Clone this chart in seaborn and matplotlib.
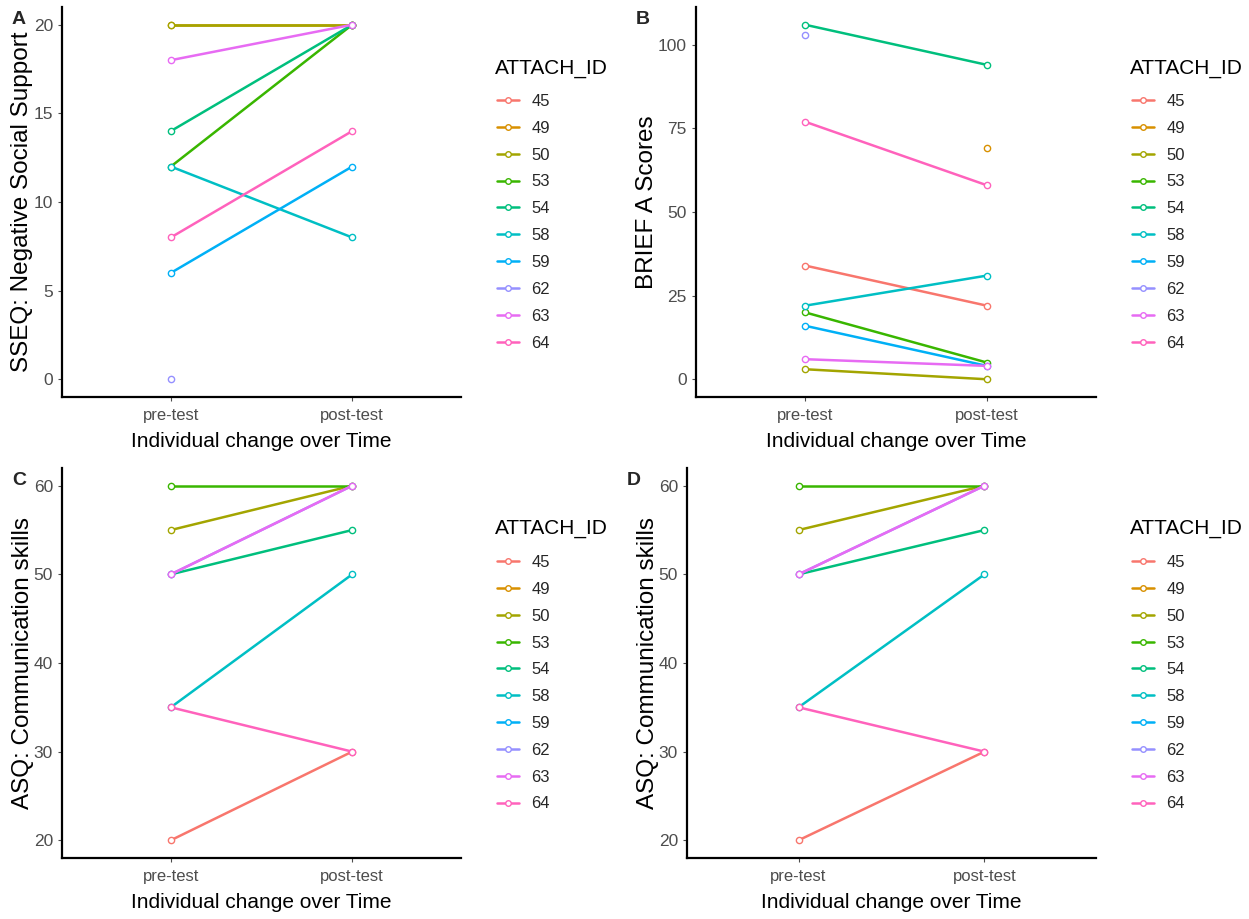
import numpy as np
import pandas as pd
import matplotlib
matplotlib.use("Agg")
import matplotlib.pyplot as plt
from matplotlib.lines import Line2D
import seaborn as sns

sns.set_theme(style="white")
plt.rcParams['font.family'] = ['Liberation Sans', 'DejaVu Sans']

ids = ["45", "49", "50", "53", "54", "58", "59", "62", "63", "64"]
palette = ["#F8766D", "#D89000", "#A3A500", "#39B600", "#00BF7D",
           "#00BFC4", "#00B0F6", "#9590FF", "#E76BF3", "#FF62BC"]
times = ["pre-test", "post-test"]

# values per ID: (pre, post); NaN = missing
sseq_pre  = [np.nan, 20, 20, 12, 14, 12, 6, 0, 18, 8]
sseq_post = [np.nan, 20, 20, 20, 20, 8, 12, np.nan, 20, 14]

brief_pre  = [34, np.nan, 3, 20, 106, 22, 16, 103, 6, 77]
brief_post = [22, 69, 0, 5, 94, 31, 4, np.nan, 4, 58]

asq_pre  = [20, np.nan, 55, 60, 50, 35, np.nan, 50, 50, 35]
asq_post = [30, np.nan, 60, 60, 55, 50, np.nan, 60, 60, 30]

panels = [
    ("A", "SSEQ: Negative Social Support", sseq_pre, sseq_post, [0, 5, 10, 15, 20]),
    ("B", "BRIEF A Scores", brief_pre, brief_post, [0, 25, 50, 75, 100]),
    ("C", "ASQ: Communication skills", asq_pre, asq_post, [20, 30, 40, 50, 60]),
    ("D", "ASQ: Communication skills", asq_pre, asq_post, [20, 30, 40, 50, 60]),
]

def make_df(pre, post):
    rows = []
    for i, pid in enumerate(ids):
        rows.append({"ATTACH_ID": pid, "Time": 0, "value": pre[i]})
        rows.append({"ATTACH_ID": pid, "Time": 1, "value": post[i]})
    return pd.DataFrame(rows)

W, H = 1249, 919
fig = plt.figure(figsize=(W / 100, H / 100), dpi=100)

boxes = [
    (62, 7, 461, 397),
    (696, 7, 1096, 397),
    (62, 468, 461, 858),
    (687, 468, 1096, 858),
]

pal = dict(zip(ids, palette))

for (letter, ylabel, pre, post, yticks), (x0, y0, x1, y1) in zip(panels, boxes):
    ax = fig.add_axes([x0 / W, 1 - y1 / H, (x1 - x0) / W, (y1 - y0) / H])
    df = make_df(pre, post)
    sns.lineplot(data=df, x="Time", y="value", hue="ATTACH_ID", hue_order=ids,
                 palette=pal, units="ATTACH_ID", estimator=None,
                 marker="o", markersize=4.5, linewidth=1.8, legend=False, ax=ax)
    for ln in ax.lines:
        c = ln.get_color()
        ln.set_markerfacecolor("white")
        ln.set_markeredgecolor(c)
        ln.set_markeredgewidth(1.0)
    vals = np.array([v for v in list(pre) + list(post) if not np.isnan(v)])
    lo, hi = vals.min(), vals.max()
    pad = (hi - lo) * 0.05
    ax.set_ylim(lo - pad, hi + pad)
    ax.set_xlim(-0.6, 1.6)
    ax.set_xticks([0, 1])
    ax.set_xticklabels(times)
    ax.set_yticks(yticks)
    ax.tick_params(axis="both", colors="#4D4D4D", labelsize=12, length=3,
                   width=0.8, direction="out", left=True, bottom=True)
    ax.tick_params(axis="x", pad=5)
    ax.tick_params(axis="y", labelsize=12.5)
    for lab in ax.get_xticklabels() + ax.get_yticklabels():
        lab.set_color("#4D4D4D")
    ax.set_xlabel("Individual change over Time", fontsize=15, color="black", labelpad=6.5)
    ax.set_ylabel(ylabel, fontsize=17.5, color="black", labelpad=0)
    for side in ["top", "right"]:
        ax.spines[side].set_visible(False)
    for side in ["left", "bottom"]:
        ax.spines[side].set_color("black")
        ax.spines[side].set_linewidth(1.6)
    ax.set_facecolor("white")

    # legend: title drawn separately, keys below
    leg_x = x1 + 34
    fig.text(leg_x / W, 1 - (y0 + 61) / H, "ATTACH_ID", fontsize=15,
             ha="left", va="center", color="black")
    handles = [Line2D([0], [0], color=pal[i], lw=1.8, marker="o", markersize=4,
                      markerfacecolor="white", markeredgecolor=pal[i], markeredgewidth=1.0)
               for i in ids]
    ax.legend(handles, ids, loc="upper left",
              bbox_to_anchor=((leg_x + 2 - x0) / (x1 - x0), 1 - 87 / (y1 - y0)),
              frameon=False, fontsize=12, borderpad=0,
              handlelength=1.3, handletextpad=0.75, labelspacing=0.71,
              borderaxespad=0)
    fig.text((x0 - 50) / W if letter in "AC" else (x0 - 60) / W, 1 - (y0 + 12) / H,
             letter, fontsize=14, fontweight="bold", ha="left", va="center")

fig.savefig("out.png", dpi=100, facecolor="white")
